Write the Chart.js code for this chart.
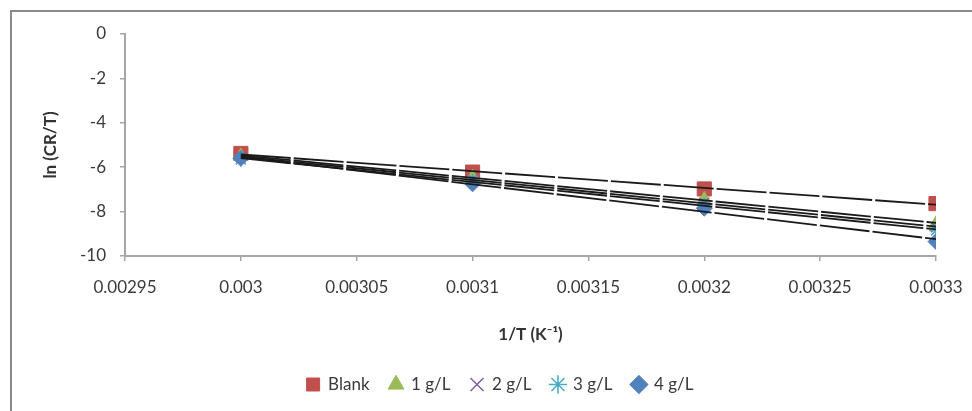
<!DOCTYPE html>
<html><head><meta charset="utf-8">
<script src="https://cdn.jsdelivr.net/npm/chart.js@4/dist/chart.umd.min.js"></script>
<style>
html,body{margin:0;padding:0;background:#fff;overflow:hidden;}
#wrap{position:absolute;left:0;top:0;width:972px;height:411px;}
#frame{position:absolute;left:10px;top:10px;width:1000px;height:440px;border:2px solid #8a8a8a;box-sizing:border-box;pointer-events:none;}
canvas{position:absolute;left:0;top:0;}
</style></head>
<body>
<div id="wrap"><div id="frame"></div><canvas id="c" width="972" height="411"></canvas></div>
<script>
const xValues = [0.0030, 0.0031, 0.0032, 0.0033];
const seriesNames = ["Blank", "1 g/L", "2 g/L", "3 g/L", "4 g/L"];
const blank = [-5.38, -6.22, -6.98, -7.64];
const g1 = [-5.50, -6.45, -7.45, -8.55];
const g2 = [-5.55, -6.55, -7.60, -8.70];
const g3 = [-5.65, -6.60, -7.70, -8.85];
const g4 = [-5.60, -6.75, -7.85, -9.35];
const xTickLabels = ["0.00295","0.003","0.00305","0.0031","0.00315","0.0032","0.00325","0.0033"];
const yTickLabels = ["-10","-8","-6","-4","-2","0"];

const allSeries = [blank, g1, g2, g3, g4];
const colors = ["#C0504D", "#9BBB59", "#8064A2", "#4BACC6", "#4F81BD"];
const styles = ["rect", "triangle", "crossRot", "star", "rectRot"];
const radii = [10, 8, 7, 7, 8];

function fit(xs, ys) {
  const n = xs.length;
  const mx = xs.reduce((a,b)=>a+b,0)/n, my = ys.reduce((a,b)=>a+b,0)/n;
  let sxy = 0, sxx = 0;
  for (let i=0;i<n;i++){ sxy += (xs[i]-mx)*(ys[i]-my); sxx += (xs[i]-mx)*(xs[i]-mx); }
  const b = sxy/sxx, a = my - b*mx;
  return [{x: xs[0], y: a + b*xs[0]}, {x: xs[n-1], y: a + b*xs[n-1]}];
}

const datasets = [];
allSeries.forEach((s, i) => {
  datasets.push({
    label: seriesNames[i],
    data: xValues.map((x, j) => ({x, y: s[j]})),
    pointStyle: styles[i],
    pointRadius: radii[i],
    pointHoverRadius: radii[i],
    backgroundColor: colors[i],
    borderColor: colors[i],
    pointBorderWidth: (styles[i] === 'crossRot' || styles[i] === 'star') ? 1.6 : 1,
    showLine: false,
    order: 10 - i
  });
});
allSeries.forEach((s, i) => {
  datasets.push({
    label: 'trend' + i,
    data: fit(xValues, s),
    showLine: true,
    borderColor: '#1a1a1a',
    borderWidth: 1.8,
    borderDash: [50, 3],
    pointRadius: 0,
    pointHoverRadius: 0,
    backgroundColor: '#1a1a1a',
    order: 1
  });
});

const FONT = "Lato, 'Open Sans', sans-serif";
Chart.defaults.font.family = FONT;
Chart.defaults.color = '#3a3a3a';

new Chart(document.getElementById('c'), {
  type: 'scatter',
  data: { datasets },
  options: {
    responsive: false,
    animation: false,
    layout: { padding: { left: 28, right: 0, top: 34, bottom: 8 } },
    plugins: {
      tooltip: { enabled: false },
      legend: {
        position: 'bottom',
        labels: {
          filter: (item) => item.datasetIndex < 5,
          sort: (a, b) => a.datasetIndex - b.datasetIndex,
          usePointStyle: true,
          boxWidth: 13,
          boxHeight: 13,
          padding: 20,
          font: { size: 17 },
          color: '#3a3a3a'
        }
      }
    },
    scales: {
      x: {
        type: 'linear',
        min: 0.00295,
        max: 0.0033,
        afterBuildTicks: (scale) => {
          scale.ticks = xTickLabels.map(t => ({ value: parseFloat(t) }));
        },
        afterFit: (scale) => { scale.height = 100; scale.paddingRight = 36; },
        ticks: {
          callback: (v, i) => xTickLabels[i],
          font: { size: 17 },
          padding: 16,
          maxRotation: 0,
          autoSkip: false
        },
        grid: { drawOnChartArea: false, color: '#a6a6a6', tickLength: 5, lineWidth: 1.5 },
        border: { color: '#a6a6a6', width: 2 },
        title: { display: true, text: '1/T (K⁻¹)', font: { size: 17, weight: 'bold' }, padding: { top: 0, bottom: 11 }, color: '#333' }
      },
      y: {
        min: -10,
        max: 0,
        afterBuildTicks: (scale) => {
          scale.ticks = yTickLabels.map(t => ({ value: parseFloat(t) }));
        },
        afterFit: (scale) => { scale.width = 97; },
        ticks: {
          callback: (v, i) => yTickLabels[i],
          font: { size: 17 },
          padding: 14
        },
        grid: { drawOnChartArea: false, color: '#a6a6a6', tickLength: 5, lineWidth: 1.5 },
        border: { color: '#a6a6a6', width: 2 },
        title: { display: true, text: 'ln (CR/T)', font: { size: 17, weight: 'bold' }, padding: { top: 12, bottom: 0 }, color: '#333' }
      }
    }
  }
});
</script>
</body></html>
